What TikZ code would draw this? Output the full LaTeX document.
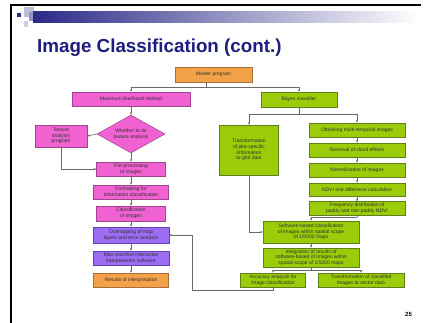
\documentclass[tikz,border=0pt]{standalone}
\usepackage{fontspec}
\setmainfont{Liberation Sans}
\usetikzlibrary{arrows.meta,shapes.geometric,calc}
\definecolor{titleblue}{HTML}{1E1E80}
\definecolor{barblue}{HTML}{2A2A88}
\definecolor{orfill}{HTML}{F4A24A}
\definecolor{ordraw}{HTML}{A87038}
\definecolor{pkfill}{HTML}{F062D2}
\definecolor{pkdraw}{HTML}{A0448E}
\definecolor{grfill}{HTML}{9ACC0A}
\definecolor{grdraw}{HTML}{62801A}
\definecolor{pufill}{HTML}{9C6CF2}
\definecolor{pudraw}{HTML}{6242B0}
\definecolor{boxtext}{HTML}{303030}
\definecolor{linegray}{HTML}{6A6A6A}
\begin{document}
\begin{tikzpicture}[x=1pt,y=-1pt,
  box/.style={draw, line width=0.5pt, inner sep=0.2pt, align=center,
    font=\fontsize{5}{5.6}\selectfont, text=boxtext},
  obox/.style={box, fill=orfill, draw=ordraw},
  pbox/.style={box, fill=pkfill, draw=pkdraw},
  gbox/.style={box, fill=grfill, draw=grdraw},
  ubox/.style={box, fill=pufill, draw=pudraw},
  conn/.style={draw=linegray, line width=0.6pt},
  arr/.style={conn, -{Stealth[length=2.6pt,width=2.2pt]}}]
\useasboundingbox (0,0) rectangle (429,323);
\fill[white] (0,0) rectangle (429,323);
% slide frame
\draw[black, line width=1.6pt] (11,323) -- (11,5) -- (421,5);
% decoration
\fill[barblue!30] (24,7) rectangle (34,17);
\fill[barblue!50] (29,12) rectangle (37,21);
\fill[barblue!22] (24,21) rectangle (28,27);
\fill[barblue] (17,13) rectangle (21,17);
\shade[left color=barblue, right color=white] (33,12) rectangle (420,23);
% title
\node[anchor=base west, inner sep=0, text=titleblue,
  font=\bfseries\fontsize{18.8}{20}\selectfont] (title) at (37,53) {Image Classification (cont.)};
% page number
\node[anchor=center, inner sep=0, font=\bfseries\fontsize{6}{7}\selectfont] (pg) at (408.5,314) {25};

% nodes
\node[obox, minimum width=77, minimum height=15] (master) at (213.5,74.5) {Master program};
\node[pbox, minimum width=118, minimum height=14] (ml) at (131,99) {Maximum likelihood method};
\node[gbox, minimum width=76, minimum height=15] (bayes) at (299,99.5) {Bayes classifier};
\node[pbox, diamond, aspect=1.8, minimum width=68, minimum height=38, inner sep=0] (dia) at (131,134) {Whether to do\\texture analysis};
\node[pbox, minimum width=52, minimum height=22] (tex) at (61,136) {Texture\\analysis\\program};
\node[pbox, minimum width=69, minimum height=14] (pre) at (131,169) {Pre-processing\\of images};
\node[pbox, minimum width=75, minimum height=14] (fmt) at (131,192) {Formatting for\\information classification};
\node[pbox, minimum width=69, minimum height=15] (cls) at (131,213.5) {Classification\\of images};
\node[ubox, minimum width=76, minimum height=16] (ovl) at (131,235) {Overlapping of map\\layers and error analysis};
\node[ubox, minimum width=76, minimum height=14] (mm) at (131,258) {Man-machine interactive\\interpretation software};
\node[obox, minimum width=75, minimum height=14] (res) at (131,280) {Results of interpretation};

\node[gbox, minimum width=59, minimum height=50] (plot) at (249,150) {Transformation\\of plot-specific\\information\\to grid data};
\node[gbox, minimum width=96, minimum height=14] (obt) at (357,130) {Obtaining multi-temporal images};
\node[gbox, minimum width=96, minimum height=14] (rem) at (357,150) {Removal of cloud effects};
\node[gbox, minimum width=96, minimum height=14] (nor) at (357,170) {Normalization of images};
\node[gbox, minimum width=96, minimum height=13] (ndvi) at (357,189.5) {NDVI and difference calculation};
\node[gbox, minimum width=96, minimum height=13.5] (freq) at (357,208.5) {Frequency distribution of\\paddy and non-paddy NDVI};
\node[gbox, minimum width=96, minimum height=22] (sw) at (311,232) {Software-based classification\\of images within spatial scope\\of 1/5000 maps};
\node[gbox, minimum width=96, minimum height=19] (integ) at (311,257.5) {Integration of results of\\software-based of images within\\spatial scope of 1/5000 maps};
\node[gbox, minimum width=65, minimum height=14] (acc) at (273,280) {Accuracy analysis for\\image classification};
\node[gbox, minimum width=86, minimum height=14] (vec) at (361,280) {Transformation of classified\\images to vector data};

% connectors
\coordinate (mj) at ($(master.south)+(-7,5)$);
\draw[conn] ([xshift=-7pt]master.south) -- (mj);
\draw[arr] (mj) -| (ml.north);
\draw[arr] (mj) -| (bayes.north);
\draw[arr] (ml.south) -- (dia.north);
\draw[arr] (dia.west) -- (tex.east);
\draw[arr] (tex.south) |- (pre.west);
\draw[arr] (dia.south) -- (pre.north);
\draw[arr] (pre.south) -- (fmt.north);
\draw[arr] (fmt.south) -- (cls.north);
\draw[arr] (cls.south) -- (ovl.north);
\draw[arr] (ovl.south) -- (mm.north);
\draw[arr] (mm.south) -- (res.north);

\coordinate (bj) at ($(bayes.south)+(0,7)$);
\draw[conn] (bayes.south) -- (bj);
\draw[arr] (bj) -| (plot.north);
\draw[arr] (bj) -| (obt.north);
\draw[arr] (obt.south) -- (rem.north);
\draw[arr] (rem.south) -- (nor.north);
\draw[arr] (nor.south) -- (ndvi.north);
\draw[arr] (ndvi.south) -- (freq.north);
\coordinate (fj) at ($(freq.south)+(0,2)$);
\draw[conn] (freq.south) -- (fj);
\draw[arr] (fj) -| (sw.north);
\draw[arr] (plot.south) |- (sw.west);
\draw[arr] (sw.south) -- (integ.north);
\coordinate (ij) at ($(integ.south)+(0,3)$);
\draw[conn] (integ.south) -- (ij);
\draw[arr] (ij) -| (acc.north);
\draw[arr] (ij) -| (vec.north);
\coordinate (lb) at (192,290);
\draw[arr] (acc.south) |- (lb) |- (ovl.east);
\end{tikzpicture}
\end{document}
